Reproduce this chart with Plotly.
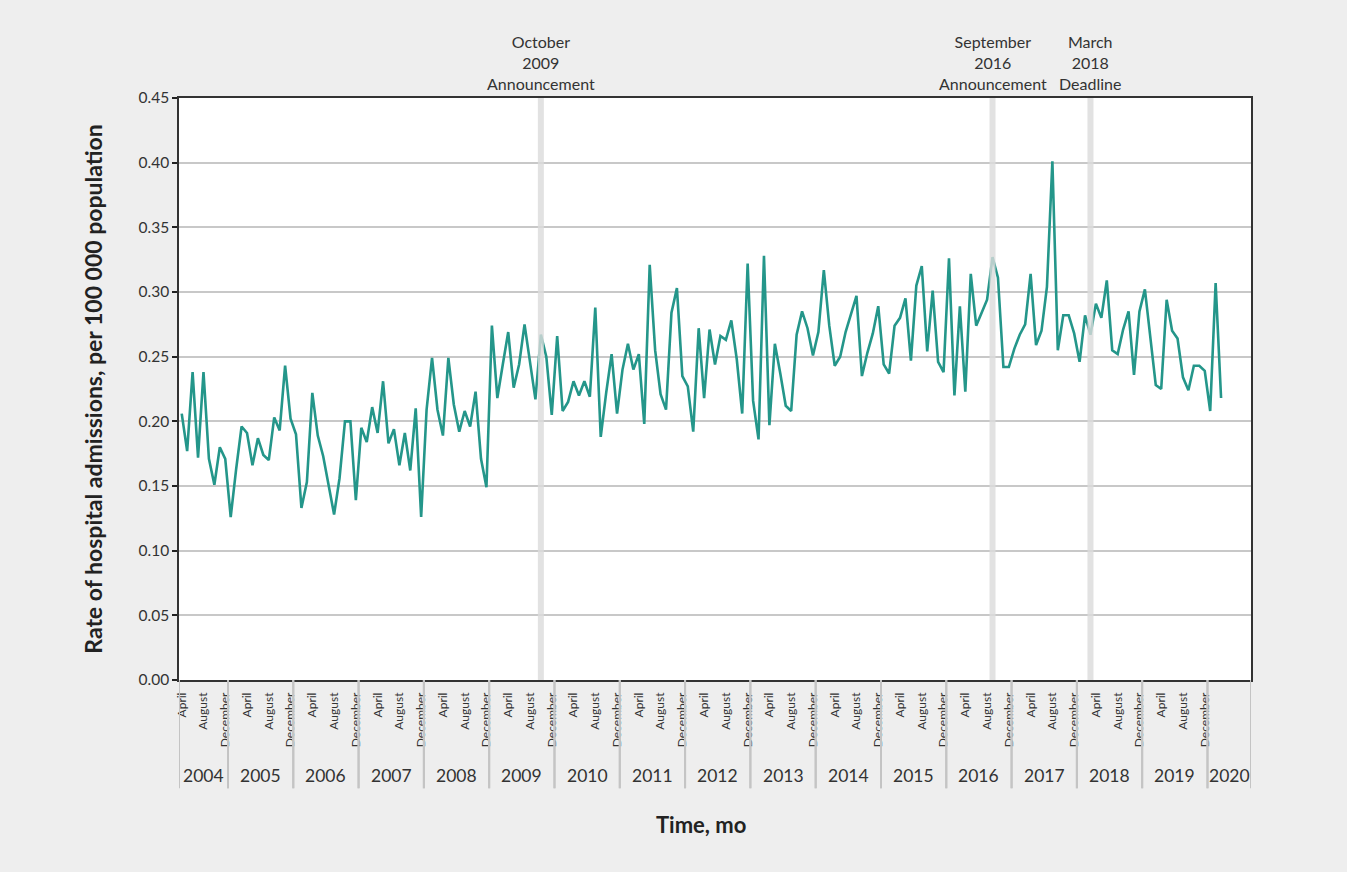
import plotly.graph_objects as go

# Monthly rate of hospital admissions per 100 000 population, April 2004 - March 2020
MONTHS = ["January", "February", "March", "April", "May", "June", "July",
          "August", "September", "October", "November", "December"]
LABELLED_MONTHS = ["April", "August", "December"]
START = (2004, 4)      # first month with data
AXIS_END = (2020, 8)   # last month shown on the axis

rate = [
    # 2004 (Apr-Dec)
    0.206, 0.177, 0.238, 0.172, 0.238, 0.171, 0.151, 0.180, 0.171,
    # 2005
    0.126, 0.163, 0.196, 0.191, 0.166, 0.187, 0.174, 0.170, 0.203, 0.193, 0.243, 0.202,
    # 2006
    0.190, 0.133, 0.153, 0.222, 0.189, 0.173, 0.151, 0.128, 0.156, 0.200, 0.200, 0.139,
    # 2007
    0.195, 0.184, 0.211, 0.191, 0.231, 0.183, 0.194, 0.166, 0.191, 0.162, 0.210, 0.126,
    # 2008
    0.209, 0.249, 0.209, 0.189, 0.249, 0.213, 0.192, 0.208, 0.196, 0.223, 0.171, 0.149,
    # 2009
    0.274, 0.218, 0.244, 0.269, 0.226, 0.244, 0.275, 0.247, 0.217, 0.267, 0.250, 0.205,
    # 2010
    0.266, 0.208, 0.215, 0.231, 0.220, 0.231, 0.219, 0.288, 0.188, 0.222, 0.252, 0.206,
    # 2011
    0.240, 0.260, 0.240, 0.252, 0.198, 0.321, 0.255, 0.221, 0.209, 0.284, 0.303, 0.235,
    # 2012
    0.227, 0.192, 0.272, 0.218, 0.271, 0.244, 0.266, 0.263, 0.278, 0.248, 0.206, 0.322,
    # 2013
    0.216, 0.186, 0.328, 0.197, 0.260, 0.237, 0.212, 0.208, 0.267, 0.285, 0.272, 0.251,
    # 2014
    0.269, 0.317, 0.274, 0.243, 0.250, 0.269, 0.283, 0.297, 0.235, 0.253, 0.268, 0.289,
    # 2015
    0.244, 0.237, 0.274, 0.280, 0.295, 0.247, 0.305, 0.320, 0.254, 0.301, 0.246, 0.238,
    # 2016
    0.326, 0.220, 0.289, 0.223, 0.314, 0.274, 0.284, 0.294, 0.327, 0.311, 0.242, 0.242,
    # 2017
    0.256, 0.267, 0.275, 0.314, 0.259, 0.270, 0.304, 0.401, 0.255, 0.282, 0.282, 0.268,
    # 2018
    0.246, 0.282, 0.267, 0.291, 0.280, 0.309, 0.255, 0.252, 0.271, 0.285, 0.236, 0.285,
    # 2019
    0.302, 0.265, 0.228, 0.225, 0.294, 0.270, 0.264, 0.234, 0.224, 0.243, 0.243, 0.239,
    # 2020 (Jan-Mar)
    0.208, 0.307, 0.218,
]

# Policy events marked with vertical bands: (month, year, label)
events = [
    ("October", 2009, "Announcement"),
    ("September", 2016, "Announcement"),
    ("March", 2018, "Deadline"),
]

FONT = "Lato, 'Noto Sans', sans-serif"
LINE_COLOR = "#24968a"
TEXT_COLOR = "#333333"
DIVIDER_COLOR = "#c4c4c4"

# Month index along the x axis: 0 = first month with data
calendar = []          # (year, month number) for every month on the axis
y, m = START
while (y, m) <= AXIS_END:
    calendar.append((y, m))
    m += 1
    if m > 12:
        m, y = 1, y + 1

x_index = list(range(len(rate)))

# Month tick labels (only where data exists)
tick_vals, tick_text = [], []
for idx, (yy, mm) in enumerate(calendar[:len(rate)]):
    if MONTHS[mm - 1] in LABELLED_MONTHS:
        tick_vals.append(idx)
        tick_text.append(MONTHS[mm - 1])

# Year groups: first and last index of each year on the axis
year_groups = {}
for idx, (yy, mm) in enumerate(calendar):
    lo, hi = year_groups.get(yy, (idx, idx))
    year_groups[yy] = (min(lo, idx), max(hi, idx))

fig = go.Figure()
fig.add_trace(go.Scatter(
    x=x_index, y=rate, mode="lines",
    line=dict(color=LINE_COLOR, width=2.6),
    hoverinfo="y",
))

# Year dividers and year labels below the month labels
DIV_BOTTOM = -0.186
YEAR_Y = -0.164
for yy, (lo, hi) in year_groups.items():
    for edge in (lo - 0.5, hi + 0.5):
        fig.add_shape(type="line", xref="x", yref="paper", x0=edge, x1=edge,
                      y0=0, y1=DIV_BOTTOM, line=dict(color=DIVIDER_COLOR, width=2))
    fig.add_annotation(x=(lo + hi) / 2, xref="x", y=YEAR_Y, yref="paper",
                       yanchor="middle", text=str(yy), showarrow=False,
                       font=dict(family=FONT, size=17.5, color=TEXT_COLOR))

for month, year, label in events:
    idx = calendar.index((year, MONTHS.index(month) + 1))
    fig.add_shape(type="line", xref="x", yref="paper", x0=idx, x1=idx, y0=0, y1=1,
                  line=dict(color="#dcdcdc", width=6), opacity=0.8, layer="above")
    fig.add_annotation(x=idx, xref="x", y=1, yref="paper", yanchor="bottom",
                       text=f"{month}<br>{year}<br>{label}", showarrow=False,
                       font=dict(family=FONT, size=16, color=TEXT_COLOR),
                       yshift=3)

fig.add_annotation(x=0.487, xref="paper", y=-0.249, yref="paper", yanchor="middle",
                   text="<b>Time, mo</b>", showarrow=False,
                   font=dict(family=FONT, size=22, color="#222222"))

fig.update_layout(
    width=1347, height=872,
    margin=dict(l=179, r=96, t=98, b=192),
    paper_bgcolor="#eeeeee", plot_bgcolor="#ffffff",
    font=dict(family=FONT, color=TEXT_COLOR),
    showlegend=False,
    xaxis=dict(
        range=[-0.5, len(calendar) - 0.5],
        tickmode="array", tickvals=tick_vals, ticktext=tick_text, tickangle=-90,
        tickfont=dict(family=FONT, size=12, color=TEXT_COLOR),
        ticklabelstandoff=6,
        showgrid=False, zeroline=False, ticks="",
        showline=True, linecolor="#333333", linewidth=1.5, mirror=True,
        automargin=False,
    ),
    yaxis=dict(
        range=[0, 0.45], dtick=0.05, tickformat=".2f",
        showgrid=True, gridcolor="#c8c8c8", gridwidth=1.5, zeroline=False,
        ticks="outside", ticklen=5, tickwidth=2, tickcolor="#222222",
        showline=True, linecolor="#333333", linewidth=1.5, mirror=True,
        tickfont=dict(family=FONT, size=15.5, color=TEXT_COLOR),
        title=dict(text="<b>Rate of hospital admissions, per 100 000 population</b>",
                   font=dict(family=FONT, size=23, color="#222222"), standoff=29),
        automargin=False,
    ),
)

fig.write_html("out.html")
